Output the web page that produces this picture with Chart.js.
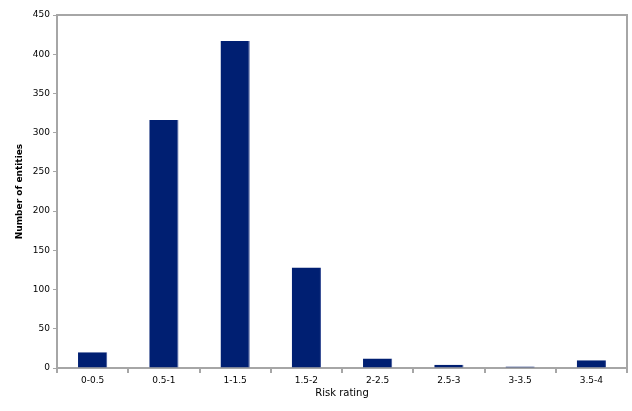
<!DOCTYPE html>
<html>
<head>
<meta charset="utf-8">
<script src="https://cdn.jsdelivr.net/npm/chart.js@4/dist/chart.umd.min.js"></script>
<style>
  html, body { margin: 0; padding: 0; background: #fff; }
  #wrap { width: 632px; height: 411px; }
</style>
</head>
<body>
<div id="wrap"><canvas id="chart" width="632" height="411"></canvas></div>
<script>
var categories = ["0-0.5", "0.5-1", "1-1.5", "1.5-2", "2-2.5", "2.5-3", "3-3.5", "3.5-4"];
var entities = [20, 316, 417, 128, 12, 4, 2, 10];
var yMax = 450;
var yStep = 50;

var axisGray = "#a6a6a6";
var barBlue = "#001f72";

var frame = {
  id: "frame",
  afterDraw: function (chart) {
    var a = chart.chartArea, ctx = chart.ctx;
    ctx.save();
    ctx.strokeStyle = axisGray;
    ctx.lineWidth = 2;
    ctx.beginPath();
    ctx.moveTo(a.left, a.top);
    ctx.lineTo(a.right, a.top);
    ctx.lineTo(a.right, a.bottom);
    ctx.stroke();
    ctx.restore();
  }
};

new Chart(document.getElementById("chart"), {
  type: "bar",
  data: {
    labels: categories,
    datasets: [{
      data: entities,
      backgroundColor: barBlue,
      borderColor: "#3a4f95",
      borderWidth: { right: 1 },
      barPercentage: 0.41,
      categoryPercentage: 1
    }]
  },
  options: {
    responsive: false,
    animation: false,
    layout: { padding: { top: 15, right: 5, bottom: 0, left: 14 } },
    plugins: { legend: { display: false }, tooltip: { enabled: false } },
    scales: {
      x: {
        grid: { display: true, drawOnChartArea: false, drawTicks: true, tickLength: 5, color: axisGray, lineWidth: 2, offset: true },
        border: { display: true, color: axisGray, width: 2 },
        ticks: { color: "#000", font: { family: "DejaVu Sans", size: 9 }, padding: 2, maxRotation: 0 },
        title: { display: true, text: "Risk rating", color: "#000", font: { family: "DejaVu Sans", size: 10 }, padding: { top: 0, bottom: 12 } },
        afterFit: function (s) { s.height = 43; }
      },
      y: {
        min: 0,
        max: yMax,
        grid: { display: true, drawOnChartArea: false, drawTicks: true, tickLength: 4, color: axisGray, lineWidth: 1 },
        border: { display: true, color: axisGray, width: 2 },
        ticks: { stepSize: yStep, color: "#000", font: { family: "DejaVu Sans", size: 9 }, padding: 3 },
        title: { display: true, text: "Number of entities", color: "#000", font: { family: "DejaVu Sans", size: 9, weight: "bold" }, padding: { top: 0, bottom: 0 } },
        afterFit: function (s) { s.width = 43; }
      }
    }
  },
  plugins: [frame]
});
</script>
</body>
</html>
